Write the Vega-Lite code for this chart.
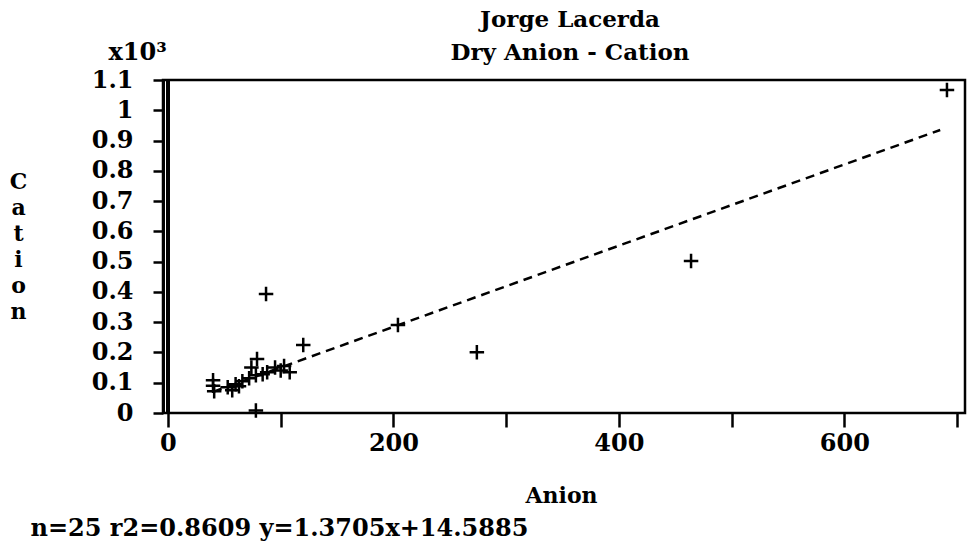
{
  "$schema": "https://vega.github.io/schema/vega-lite/v6.json",
  "width": 802,
  "height": 333,
  "autosize": {"type": "none"},
  "padding": {"left": 163, "top": 80, "right": 3, "bottom": 142},
  "background": "white",
  "title": {
    "text": ["Jorge Lacerda", "Dry Anion - Cation"],
    "anchor": "middle",
    "dx": 6,
    "dy": 41,
    "offset": 16,
    "fontSize": 23,
    "fontWeight": "bold",
    "lineHeight": 33,
    "color": "black",
    "font": "DejaVu Serif"
  },
  "data": {
    "values": [
      {"Anion": 40, "Cation": 108},
      {"Anion": 40, "Cation": 90},
      {"Anion": 41, "Cation": 72},
      {"Anion": 53, "Cation": 85},
      {"Anion": 57, "Cation": 75},
      {"Anion": 60, "Cation": 95},
      {"Anion": 63, "Cation": 88},
      {"Anion": 66, "Cation": 105},
      {"Anion": 74, "Cation": 150},
      {"Anion": 79, "Cation": 178},
      {"Anion": 72, "Cation": 115},
      {"Anion": 78, "Cation": 125},
      {"Anion": 78, "Cation": 8},
      {"Anion": 84, "Cation": 128},
      {"Anion": 88, "Cation": 135},
      {"Anion": 95, "Cation": 150},
      {"Anion": 100, "Cation": 140},
      {"Anion": 103, "Cation": 155},
      {"Anion": 108, "Cation": 135},
      {"Anion": 120, "Cation": 225},
      {"Anion": 87, "Cation": 393},
      {"Anion": 204, "Cation": 291},
      {"Anion": 274, "Cation": 201},
      {"Anion": 464, "Cation": 502},
      {"Anion": 691, "Cation": 1067}
    ]
  },
  "layer": [
    {
      "mark": {
        "type": "point",
        "shape": "M-1,0H1M0,-1V1",
        "size": 210,
        "filled": false,
        "stroke": "black",
        "strokeWidth": 2.5,
        "opacity": 1
      },
      "encoding": {
        "x": {
          "field": "Anion",
          "type": "quantitative",
          "scale": {"domain": [-4.4, 707], "nice": false, "zero": false},
          "axis": {
            "orient": "bottom",
            "title": "Anion",
            "values": [0, 100, 200, 300, 400, 500, 600, 700],
            "labelExpr": "datum.value % 200 === 0 ? datum.label : ''",
            "format": "d",
            "grid": false,
            "domain": false,
            "tickSize": 14,
            "tickWidth": 2.5,
            "tickColor": "black",
            "labelPadding": 4,
            "labelFontSize": 24,
            "labelFontWeight": "bold",
            "labelColor": "black",
            "labelFlush": false,
            "labelFont": "DejaVu Serif",
            "titleFont": "DejaVu Serif",
            "titleFontSize": 22,
            "titleFontWeight": "bold",
            "titleColor": "black",
            "titleX": 398,
            "titleY": 72,
            "titleBaseline": "top",
            "titleAlign": "center"
          }
        },
        "y": {
          "field": "Cation",
          "type": "quantitative",
          "scale": {"domain": [0, 1100], "nice": false, "zero": false},
          "axis": {
            "orient": "left",
            "title": ["C", "a", "t", "i", "o", "n"],
            "values": [0, 100, 200, 300, 400, 500, 600, 700, 800, 900, 1000, 1100],
            "labelExpr": "format(datum.value / 1000, '~g')",
            "grid": false,
            "domain": true,
            "domainColor": "black",
            "domainWidth": 3,
            "tickSize": 10,
            "tickWidth": 2.5,
            "tickColor": "black",
            "labelPadding": 20,
            "labelFontSize": 24,
            "labelFontWeight": "bold",
            "labelColor": "black",
            "labelFlush": false,
            "labelFont": "DejaVu Serif",
            "titleFont": "DejaVu Serif",
            "titleFontSize": 22,
            "titleFontWeight": "bold",
            "titleColor": "black",
            "titleAngle": 0,
            "titleAlign": "center",
            "titleBaseline": "top",
            "titleLineHeight": 26,
            "titleX": -145,
            "titleY": 91
          }
        }
      }
    },
    {
      "data": {
        "values": [
          {"Anion": 40, "Fit": 70},
          {"Anion": 685, "Fit": 935}
        ]
      },
      "mark": {"type": "line", "stroke": "black", "strokeWidth": 2.5, "strokeDash": [9, 6]},
      "encoding": {
        "x": {
          "field": "Anion",
          "type": "quantitative",
          "axis": {
            "orient": "bottom",
            "title": "n=25 r2=0.8609 y=1.3705x+14.5885",
            "labels": false,
            "ticks": false,
            "domain": false,
            "grid": false,
            "titleFont": "DejaVu Serif",
            "titleFontSize": 24,
            "titleFontWeight": "bold",
            "titleColor": "black",
            "titleAlign": "left",
            "titleBaseline": "top",
            "titleX": -133,
            "titleY": 103
          }
        },
        "y": {
          "field": "Fit",
          "type": "quantitative",
          "axis": {
            "orient": "left",
            "title": "x10³",
            "labels": false,
            "ticks": false,
            "domain": false,
            "grid": false,
            "titleFont": "DejaVu Serif",
            "titleFontSize": 24,
            "titleFontWeight": "bold",
            "titleColor": "black",
            "titleAngle": 0,
            "titleAlign": "left",
            "titleBaseline": "top",
            "titleX": -55,
            "titleY": -40
          }
        }
      }
    },
    {
      "mark": {"type": "rule", "stroke": "black", "strokeWidth": 3},
      "encoding": {
        "x": {"datum": 0, "type": "quantitative", "axis": null}
      }
    }
  ],
  "resolve": {"axis": {"x": "independent", "y": "independent"}},
  "config": {
    "view": {"stroke": "black", "strokeWidth": 2.5},
    "font": "DejaVu Serif"
  }
}
